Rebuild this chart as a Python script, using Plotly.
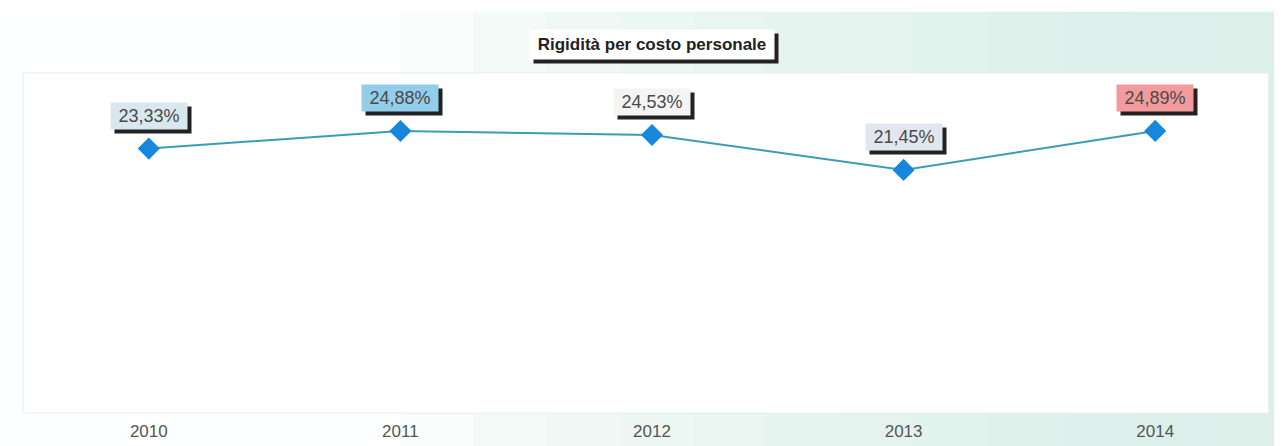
import plotly.graph_objects as go

# Data
years = ["2010", "2011", "2012", "2013", "2014"]
rigidita = [23.33, 24.88, 24.53, 21.45, 24.89]
label_colors = ["#d9e8ee", "#92cdea", "#f4f4f4", "#e2e6ee", "#f29a9c"]

FONT = "Liberation Sans, Arial"

fig = go.Figure()

fig.add_trace(
    go.Scatter(
        x=years,
        y=rigidita,
        mode="lines+markers",
        line=dict(color="#3a9db4", width=2),
        marker=dict(symbol="diamond", size=17, color="#1787dc"),
        hoverinfo="x+y",
        showlegend=False,
    )
)

# value labels with a dark drop shadow (shadow = empty box of same size)
for i, (val, col) in enumerate(zip(rigidita, label_colors)):
    txt = f"{val:.2f}%".replace(".", ",")
    fig.add_annotation(
        xref="x", yref="y", x=i, y=val, text=" ", showarrow=False,
        xshift=4, yshift=29, width=70, height=20,
        font=dict(family=FONT, size=18),
        bgcolor="#222", borderpad=3,
    )
    fig.add_annotation(
        xref="x", yref="y", x=i, y=val, text=txt, showarrow=False,
        yshift=33, width=70, height=20,
        font=dict(family=FONT, size=18, color="#4a4a4a"),
        bgcolor=col, borderpad=3,
    )

# title box with shadow
fig.add_annotation(
    xref="paper", yref="paper", x=0.5, y=1, xshift=4, yshift=25,
    yanchor="middle", text=" ", showarrow=False, width=236, height=21,
    font=dict(family=FONT, size=17),
    bgcolor="#222", borderpad=4,
)
fig.add_annotation(
    xref="paper", yref="paper", x=0.5, y=1, yshift=29,
    yanchor="middle", text="<b>Rigidità per costo personale</b>",
    showarrow=False, width=236, height=21,
    font=dict(family=FONT, size=17, color="#222"),
    bgcolor="white", borderpad=4,
)

# pale mint background fading in towards the right
steps = 12
for i in range(steps):
    x0 = 0.3 + i * 0.7 / steps
    fig.add_shape(
        type="rect", xref="paper", yref="paper",
        x0=x0, x1=1.02, y0=-0.2, y1=1.18,
        fillcolor="rgba(214,238,230,0.12)", line_width=0,
        layer="below",
    )
fig.add_shape(
    type="rect", xref="paper", yref="paper", x0=0, x1=0.99, y0=0, y1=1,
    fillcolor="white", line=dict(color="#e8eeec", width=1), layer="below",
)

# the page body adds an 8px offset, margins account for it
fig.update_layout(
    width=1282,
    height=446,
    margin=dict(l=15, r=9, t=65, b=41),
    paper_bgcolor="#fdfefe",
    plot_bgcolor="rgba(0,0,0,0)",
    xaxis=dict(
        type="category",
        range=[-0.5, 4.5],
        showgrid=False,
        showline=False,
        zeroline=False,
        ticks="",
        ticklabelstandoff=6,
        tickfont=dict(family=FONT, size=17, color="#555"),
    ),
    yaxis=dict(
        range=[0, 30],
        showgrid=False,
        showline=False,
        zeroline=False,
        showticklabels=False,
        ticks="",
    ),
)

fig.write_html("out.html")
